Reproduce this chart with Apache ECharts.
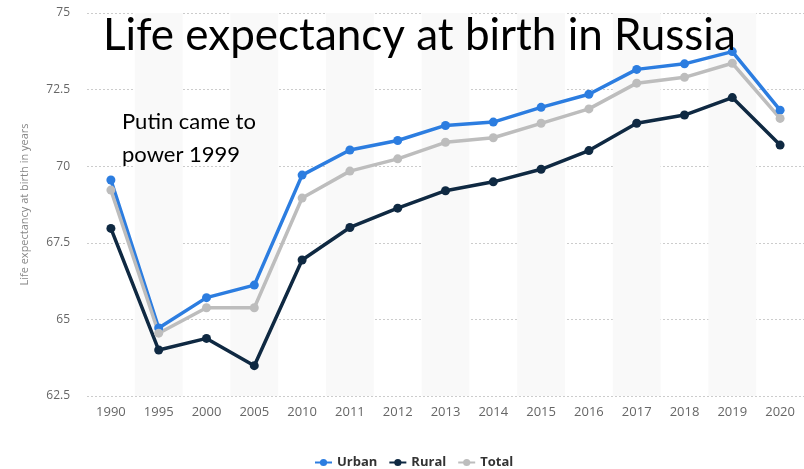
<!DOCTYPE html>
<html><head><meta charset="utf-8">
<script src="https://cdn.jsdelivr.net/npm/echarts@6/dist/echarts.min.js"></script>
<style>html,body{margin:0;padding:0;background:#fff}#c{width:804px;height:469px}</style>
</head><body><div id="c"></div>
<script>
const years = ['1990','1995','2000','2005','2010','2011','2012','2013','2014','2015','2016','2017','2018','2019','2020'];
const urban = [69.55,64.72,65.71,66.12,69.71,70.53,70.84,71.33,71.44,71.92,72.35,73.16,73.34,73.74,71.83];
const rural = [67.97,64.00,64.38,63.49,66.94,68.00,68.63,69.20,69.49,69.90,70.51,71.40,71.67,72.24,70.69];
const total = [69.22,64.55,65.38,65.38,68.96,69.84,70.24,70.78,70.93,71.40,71.87,72.71,72.90,73.36,71.56];
const titleText = 'Life expectancy at birth in Russia';
const noteText = 'Putin came to\npower 1999';
const yName = 'Life expectancy at birth in years';

const chart = echarts.init(document.getElementById('c'));
function mk(name, data, color) {
  return {name, type:'line', data, symbol:'circle', symbolSize:9, color,
    lineStyle:{width:3.5, color}, itemStyle:{color}, z: 3};
}
chart.setOption({
  animation:false,
  backgroundColor:'#fff',
  textStyle:{fontFamily:'Open Sans'},
  graphic:[
    {type:'text', left:103, top:14, style:{text:titleText, font:'44px Lato', fill:'#000'}, z:10},
    {type:'text', left:122, top:105, style:{text:noteText, font:'22px Lato', fill:'#000', lineHeight:33}, z:10}
  ],
  grid:{left:87, right:-5, top:13, bottom:73},
  xAxis:{type:'category', data:years, boundaryGap:true,
    axisLine:{show:false}, axisTick:{show:false},
    axisLabel:{color:'#666', fontSize:13, margin:10, fontFamily:'Open Sans'},
    splitArea:{show:true, areaStyle:{color:['rgba(0,0,0,0)','#f9f9f9']}}
  },
  yAxis:{type:'value', min:62.5, max:75, interval:2.5,
    name:yName, nameLocation:'middle', nameGap:57, nameRotate:90,
    nameTextStyle:{color:'#888', fontSize:11, fontFamily:'Open Sans'},
    axisLine:{show:false}, axisTick:{show:false},
    axisLabel:{color:'#666', fontSize:12, margin:17, fontFamily:'Open Sans'},
    splitLine:{lineStyle:{color:'#ccc', type:[2,2], width:1}}
  },
  legend:{top:451, left:309, itemGap:11, itemWidth:17, itemHeight:9,
    textStyle:{color:'#333', fontWeight:'bold', fontSize:13, fontFamily:'Open Sans'},
    data:['Urban','Rural','Total']},
  series:[mk('Urban', urban, '#2c7de0'), mk('Rural', rural, '#0f2942'), mk('Total', total, '#bdbdbd')]
});
</script></body></html>
